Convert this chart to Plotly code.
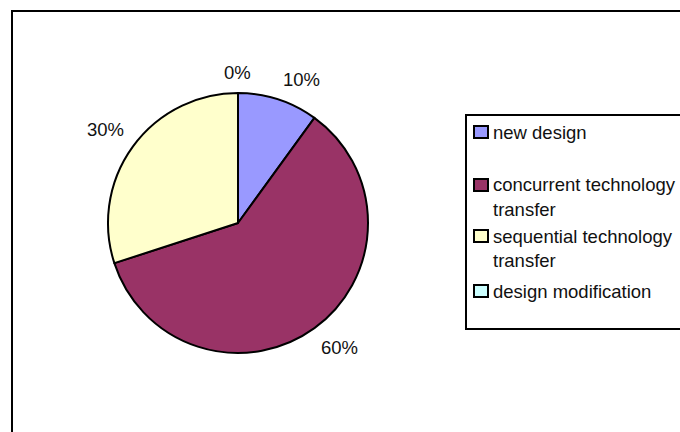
import math
import plotly.graph_objects as go

# Share of projects by development approach (percent)
categories = ["new design", "concurrent technology transfer",
              "sequential technology transfer", "design modification"]
legend_lines = [["new design"],
                ["concurrent technology", "transfer"],
                ["sequential technology", "transfer"],
                ["design modification"]]
values = [10, 60, 30, 0]
colors = ["#9999FF", "#993366", "#FFFFCC", "#CCFFFF"]

W, H = 680, 432
FONT = "Liberation Sans, Arial, sans-serif"
FSIZE = 18.5

# pie geometry in pixels
CX, CY, R = 238, 223, 130


def px(x):
    return x / W


def py(y):
    return 1 - y / H


fig = go.Figure()
fig.add_trace(go.Pie(
    labels=categories,
    values=values,
    sort=False,
    direction="clockwise",
    rotation=0,
    marker=dict(colors=colors, line=dict(color="black", width=2)),
    textinfo="none",
    hoverinfo="label+percent",
    showlegend=False,
    domain=dict(x=[px(CX - R), px(CX + R)], y=[py(CY + R), py(CY - R)]),
))

annotations = []
shapes = []

# percentage labels outside each slice, placed at the slice's mid angle
total = sum(values)
cum = 0
LAB_R = 138
for v in values:
    mid = (cum + v / 2) / total * 2 * math.pi
    cum += v
    s, c = math.sin(mid), math.cos(mid)
    ax = CX + LAB_R * s
    ay = CY - LAB_R * c
    xa = "left" if s > 0.05 else ("right" if s < -0.05 else "center")
    ya = "bottom" if c > 0.05 else ("top" if c < -0.05 else "middle")
    annotations.append(dict(
        x=px(ax), y=py(ay), xref="paper", yref="paper",
        text=f"{round(v / total * 100)}%", showarrow=False,
        xanchor=xa, yanchor=ya,
        font=dict(family=FONT, size=FSIZE, color="#111"),
    ))

# outer chart frame
shapes.append(dict(type="rect", xref="paper", yref="paper",
                   x0=px(12), y0=py(11), x1=px(W + 20), y1=py(H + 20),
                   line=dict(color="black", width=2), fillcolor="rgba(0,0,0,0)"))

# legend frame
shapes.append(dict(type="rect", xref="paper", yref="paper",
                   x0=px(466), y0=py(115), x1=px(W + 20), y1=py(329),
                   line=dict(color="black", width=2), fillcolor="white"))

# legend entries
row_y = [132, 185, 236, 291]
LINE_GAP = 24
for lines, col, ry in zip(legend_lines, colors, row_y):
    shapes.append(dict(type="rect", xref="paper", yref="paper",
                       x0=px(474), x1=px(488), y0=py(ry - 6), y1=py(ry + 6),
                       line=dict(color="black", width=2), fillcolor=col))
    for i, t in enumerate(lines):
        annotations.append(dict(
            x=px(491), y=py(ry + i * LINE_GAP), xref="paper", yref="paper",
            text=t, showarrow=False, xanchor="left", yanchor="middle",
            font=dict(family=FONT, size=FSIZE, color="#111"),
        ))

fig.update_layout(
    width=W, height=H,
    margin=dict(l=0, r=0, t=0, b=0),
    paper_bgcolor="white",
    plot_bgcolor="white",
    shapes=shapes,
    annotations=annotations,
    showlegend=False,
)

fig.write_html("out.html")
